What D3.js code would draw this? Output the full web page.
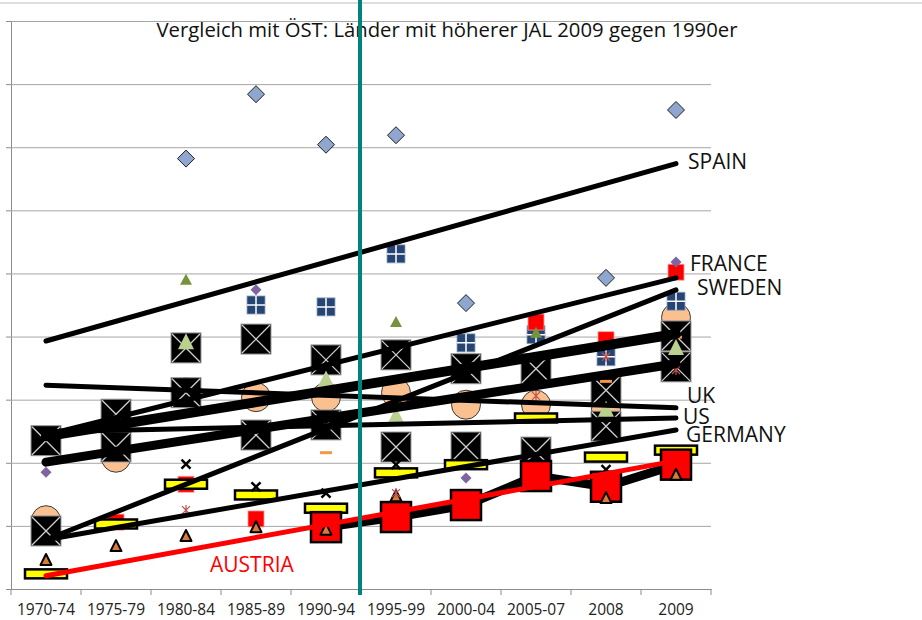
<!DOCTYPE html>
<html>
<head>
<meta charset="utf-8">
<script src="https://cdn.jsdelivr.net/npm/d3@7"></script>
<style>
  body { margin: 0; background: #fff; }
  svg { display: block; font-family: "Open Sans", sans-serif; }
</style>
</head>
<body>
<div id="chart"></div>
<script>
const width = 922,
height = 620,
margin = ({ top: 21, right: 211, bottom: 31, left: 11 });

// categories on the x axis
const categories = ["1970-74", "1975-79", "1980-84", "1985-89", "1990-94", "1995-99", "2000-04", "2005-07", "2008", "2009"];

// marker series, values in gridline units (no y labels in the original)
const blueDiamond = [null, null, 6.82, 7.84, 7.04, 7.19, 4.53, null, 4.93, 7.59];
const navySquare = [null, null, null, 4.50, 4.47, 5.31, 3.90, 4.03, 3.68, 4.56];
const redSmall = [null, 1.06, 1.66, 1.11, null, null, null, 4.23, 3.95, 5.02];
const oliveTri = [null, null, 4.90, null, null, 4.23, null, 4.06, null, null];
const lightTri = [null, null, 3.91, null, 3.32, 2.74, null, null, 2.84, 3.82];
const salmonCircle = [1.09, 2.08, 3.12, 3.04, 3.04, 3.11, 2.92, 2.92, 2.85, 4.30];
const purpleDiamond = [1.85, null, null, 4.74, null, null, 1.76, null, null, 5.18];
const orangeTri = [0.46, 0.68, 0.84, 0.98, 0.94, 1.47, null, null, 1.44, 1.81];
const blackCross = [null, null, 1.98, 1.62, 1.52, 1.97, null, null, 1.89, null];
const orangeDash = [null, null, null, null, 2.16, null, null, null, 3.29, 3.99];
const redStar = [null, null, 1.25, null, null, 1.52, null, 3.06, 3.68, 3.47];
const xSquare1 = [2.35, 2.77, 3.82, 3.96, 3.63, 3.71, 3.49, 3.49, 3.15, 4.01];
const xSquare2 = [0.92, 2.25, 3.11, 2.44, 2.60, 2.25, 2.25, 2.17, 2.58, 3.52];
const yellowBar = [0.24, 1.03, 1.66, 1.49, 1.28, 1.84, 1.97, 2.71, 2.09, 2.20];
const austria = [null, null, null, null, 0.98, 1.14, 1.33, 1.79, 1.62, 1.97];

// linear trend lines: value at first and at last category
const trendNames = ["SPAIN", "FRANCE", "SWEDEN", "UK", "US", "GERMANY", "", ""];
const trendStart = [3.93, 2.44, 0.78, 3.23, 2.49, 0.78, 2.42, 2.01];
const trendEnd = [6.74, 4.93, 4.74, 2.87, 2.71, 2.52, 4.04, 3.57];
const trendWidth = [5, 5, 5, 5, 5, 5, 10, 9];
const austriaTrend = [0.21, 2.03];

const svg = d3.select("#chart")
    .append("svg")
    .attr("width", width)
    .attr("height", height);

let x = d3.scaleBand()
    .domain(categories)
    .range([margin.left, width - margin.right])
    .padding(0);

let cx = c => x(c) + x.bandwidth() / 2;

let y = d3.scaleLinear()
    .domain([0, 9])
    .range([height - margin.bottom, margin.top]);

// top border of the slide
svg.append("line")
    .attr("x1", 0).attr("x2", width)
    .attr("y1", 3).attr("y2", 3)
    .attr("stroke", "#bdbdbd");

// gridlines + y ticks
svg.append("g")
    .attr("transform", `translate(${margin.left},0)`)
    .call(d3.axisLeft(y)
        .ticks(9)
        .tickSize(5)
        .tickFormat(""))
    .call(g => g.select(".domain").attr("stroke", "#8c8c8c"))
    .call(g => g.selectAll(".tick line").attr("stroke", "#8c8c8c"))
    .call(g => g.selectAll(".tick").filter(d => d > 0).append("line")
        .attr("x2", width - margin.right - margin.left)
        .attr("stroke", "#a6a6a6"));

// x axis
svg.append("g")
    .attr("transform", `translate(0,${height - margin.bottom})`)
    .call(d3.axisBottom(x)
        .tickSize(0)
        .tickPadding(15))
    .call(g => g.select(".domain").attr("stroke", "#8c8c8c"))
    .call(g => g.selectAll("text")
        .attr("font-family", "Open Sans")
        .attr("font-size", 15.5)
        .attr("fill", "#222"));

// x ticks between categories
svg.append("g")
    .selectAll("line")
    .data(categories.concat([null]))
    .join("line")
    .attr("x1", (d, i) => margin.left + i * x.bandwidth())
    .attr("x2", (d, i) => margin.left + i * x.bandwidth())
    .attr("y1", height - margin.bottom)
    .attr("y2", height - margin.bottom + 6)
    .attr("stroke", "#8c8c8c");

// helper: put one marker shape per non-null value
function markers(values, draw) {
    let g = svg.append("g");
    values.forEach((v, i) => {
        if (v === null) return;
        let m = g.append("g")
            .attr("transform", `translate(${cx(categories[i])},${y(v)})`);
        draw(m);
    });
}

markers(salmonCircle, m => m.append("circle")
    .attr("r", 14.5).attr("fill", "#fac090").attr("stroke", "#3a3a3a"));

markers(navySquare, m => {
    m.append("rect").attr("x", -9).attr("y", -9).attr("width", 18).attr("height", 18)
        .attr("fill", "#264573").attr("stroke", "#8fa1bd").attr("stroke-width", 0.8);
    m.append("path").attr("d", "M-9,0H9M0,-9V9").attr("stroke", "#fff").attr("stroke-width", 1.5);
});

markers(blueDiamond, m => m.append("path")
    .attr("d", "M0,-8.5L8.5,0L0,8.5L-8.5,0Z")
    .attr("fill", "#8fa6cf").attr("stroke", "#1f1f1f"));

markers(redSmall, m => m.append("rect")
    .attr("x", -8).attr("y", -8).attr("width", 16).attr("height", 16)
    .attr("fill", "#ff0000").attr("stroke", "#ff9a9a").attr("stroke-width", 0.8));

markers(oliveTri, m => m.append("path")
    .attr("d", "M0,-6L6,5H-6Z").attr("fill", "#77933c"));

markers(purpleDiamond, m => m.append("path")
    .attr("d", "M0,-5.5L5.5,0L0,5.5L-5.5,0Z").attr("fill", "#8064a2"));

function xSquare(m) {
    m.append("rect").attr("x", -15).attr("y", -15).attr("width", 30).attr("height", 30)
        .attr("fill", "#000").attr("stroke", "#9a9a9a").attr("stroke-width", 1);
    m.append("path").attr("d", "M-14,-14L14,14M14,-14L-14,14")
        .attr("stroke", "#d0d0d0").attr("stroke-width", 1.3);
}
markers(xSquare1, xSquare);
markers(xSquare2, xSquare);

markers(lightTri, m => m.append("path")
    .attr("d", "M0,-9L8,7H-8Z").attr("fill", "#b9d08f"));

markers(yellowBar, m => m.append("rect")
    .attr("x", -21).attr("y", -4.5).attr("width", 42).attr("height", 9)
    .attr("fill", "#ffff00").attr("stroke", "#000").attr("stroke-width", 2.5));

// Austria: connected red squares
let austriaPts = austria.map((v, i) => [categories[i], v]).filter(d => d[1] !== null);
svg.append("path")
    .datum(austriaPts)
    .attr("fill", "none")
    .attr("stroke", "#000")
    .attr("stroke-width", 9)
    .attr("stroke-linejoin", "round")
    .attr("d", d3.line().x(d => cx(d[0])).y(d => y(d[1])));

markers(austria, m => m.append("rect")
    .attr("x", -15).attr("y", -15).attr("width", 30).attr("height", 30)
    .attr("fill", "#ff0000").attr("stroke", "#000").attr("stroke-width", 2.5));

markers(orangeTri, m => m.append("path")
    .attr("d", "M0,-6L5.5,5H-5.5Z").attr("fill", "#d87b3a")
    .attr("stroke", "#000").attr("stroke-width", 2).attr("stroke-linejoin", "round"));

markers(blackCross, m => m.append("path")
    .attr("d", "M-4.5,-4.5L4.5,4.5M4.5,-4.5L-4.5,4.5")
    .attr("stroke", "#000").attr("stroke-width", 2.5));

markers(orangeDash, m => m.append("rect")
    .attr("x", -6).attr("y", -1.5).attr("width", 12).attr("height", 3).attr("fill", "#f79646"));

markers(redStar, m => m.append("path")
    .attr("d", "M-4,-4L4,4M4,-4L-4,4M0,-5V5")
    .attr("stroke", "#c0504d").attr("stroke-width", 1.2));

// trend lines
let first = categories[0], last = categories[categories.length - 1];
trendStart.forEach((s, i) => {
    svg.append("line")
        .attr("x1", cx(first)).attr("y1", y(s))
        .attr("x2", cx(last)).attr("y2", y(trendEnd[i]))
        .attr("stroke", "#000")
        .attr("stroke-width", trendWidth[i])
        .attr("stroke-linecap", "round");
});

svg.append("line")
    .attr("x1", cx(first)).attr("y1", y(austriaTrend[0]))
    .attr("x2", cx(last)).attr("y2", y(austriaTrend[1]))
    .attr("stroke", "#ff0000")
    .attr("stroke-width", 5)
    .attr("stroke-linecap", "round");

// end-of-line labels
const labelDx = [12, 14, 21, 11, 7, 10];
const labelDy = [0, -12, 0, -10, 0, 6];
trendNames.forEach((n, i) => {
    if (!n) return;
    svg.append("text")
        .attr("x", cx(last) + labelDx[i])
        .attr("y", y(trendEnd[i]) + labelDy[i])
        .attr("dominant-baseline", "middle")
        .attr("font-size", 21)
        .attr("fill", "#111")
        .text(n);
});

svg.append("text")
    .attr("x", 210)
    .attr("y", 572)
    .attr("font-size", 21)
    .attr("fill", "#ff0000")
    .text("AUSTRIA");

// title
svg.append("text")
    .attr("x", 447)
    .attr("y", 37)
    .attr("text-anchor", "middle")
    .attr("font-size", 20.3)
    .attr("fill", "#111")
    .text("Vergleich mit ÖST: Länder mit höherer JAL 2009 gegen 1990er");

// teal separator between 1990-94 and 1995-99
svg.append("line")
    .attr("x1", 360).attr("x2", 360)
    .attr("y1", 0).attr("y2", height - margin.bottom + 6)
    .attr("stroke", "#00827d")
    .attr("stroke-width", 4);
</script>
</body>
</html>
